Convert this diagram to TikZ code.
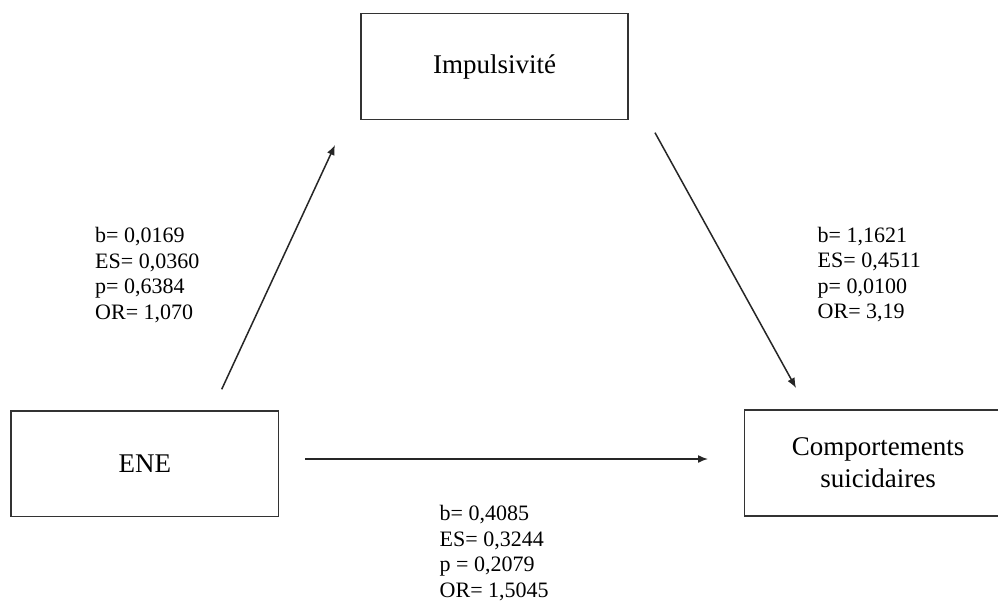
\documentclass[tikz,border=0pt]{standalone}
\usepackage{fontspec}
\setmainfont{Liberation Serif}
\usetikzlibrary{arrows.meta}
\begin{document}
\begin{tikzpicture}[x=1pt,y=-1pt,
  box/.style={draw=black!80, line width=1.7pt, minimum width=267pt, minimum height=106pt,
    inner sep=0pt, font=\fontsize{27}{31.7}\selectfont, align=center},
  lbl/.style={inner sep=0pt, anchor=north west, align=left,
    font=\fontsize{22}{25.6}\selectfont},
  arr/.style={draw=black!85, line width=1.5pt, -{Latex[length=10pt,width=8pt]}}]
\clip (0,0) rectangle (998,602);
\fill[white] (0,0) rectangle (998,602);

\node[box] (imp) at (494.5,66.5) {Impulsivité};
\node[box, minimum width=267.5pt, minimum height=105.5pt] (ene) at (144.75,463.75) {ENE};
\node[box] (comp) at (878,463) {Comportements\\suicidaires};

\coordinate (a1s) at (221.7,389.3);
\coordinate (a1e) at (335,145);
\coordinate (a2s) at (655,132.7);
\coordinate (a2e) at (796,388);
\coordinate (a3s) at (305,459);
\coordinate (a3e) at (708,459);

\draw[arr] (a1s) -- (a1e);
\draw[arr] (a2s) -- (a2e);
\draw[arr] (a3s) -- (a3e);

\node[lbl] (lab1) at (95,227.3) {b= 0,0169\\ES= 0,0360\\p= 0,6384\\OR= 1,070};
\node[lbl] (lab2) at (817.5,226.7) {b= 1,1621\\ES= 0,4511\\p= 0,0100\\OR= 3,19};
\node[lbl] (lab3) at (439.5,505) {b= 0,4085\\ES= 0,3244\\p = 0,2079\\OR= 1,5045};
\end{tikzpicture}
\end{document}
